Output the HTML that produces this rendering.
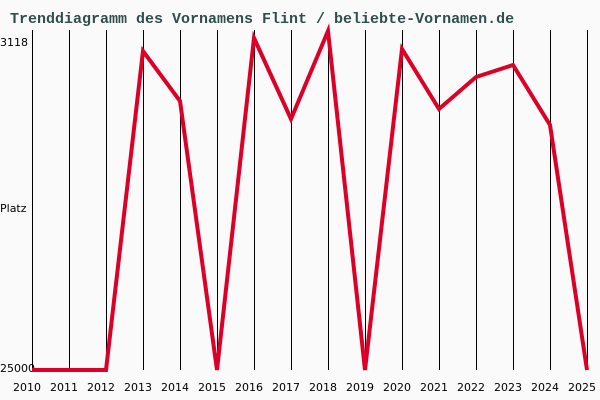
<!DOCTYPE html>
<html><head><style>body{margin:0;background:#fafafa}svg{display:block}</style></head>
<body>
<svg width="600" height="400" xmlns="http://www.w3.org/2000/svg" font-family="Liberation Mono, DejaVu Sans Mono, monospace">
<rect width="600" height="400" fill="#fafafa"/>
<text x="10" y="23" font-size="15" fill="#2f4f4f" font-weight="bold">Trenddiagramm des Vornamens Flint / beliebte-Vornamen.de</text>
<g stroke="#000" stroke-width="1">
<line x1="32.5" y1="30" x2="32.5" y2="370"/><line x1="69.5" y1="30" x2="69.5" y2="370"/><line x1="106.5" y1="30" x2="106.5" y2="370"/><line x1="143.5" y1="30" x2="143.5" y2="370"/><line x1="180.5" y1="30" x2="180.5" y2="370"/><line x1="217.5" y1="30" x2="217.5" y2="370"/><line x1="254.5" y1="30" x2="254.5" y2="370"/><line x1="291.5" y1="30" x2="291.5" y2="370"/><line x1="328.5" y1="30" x2="328.5" y2="370"/><line x1="365.5" y1="30" x2="365.5" y2="370"/><line x1="402.5" y1="30" x2="402.5" y2="370"/><line x1="439.5" y1="30" x2="439.5" y2="370"/><line x1="476.5" y1="30" x2="476.5" y2="370"/><line x1="513.5" y1="30" x2="513.5" y2="370"/><line x1="550.5" y1="30" x2="550.5" y2="370"/><line x1="587.5" y1="30" x2="587.5" y2="370"/>
</g>
<g font-size="11" fill="#000" font-family="DejaVu Sans, Liberation Sans, sans-serif">
<text x="0" y="46">3118</text>
<text x="0" y="212">Platz</text>
<text x="0" y="372">25000</text>
<g text-anchor="middle">
<text x="27" y="391">2010</text><text x="64" y="391">2011</text><text x="101" y="391">2012</text><text x="138" y="391">2013</text><text x="175" y="391">2014</text><text x="212" y="391">2015</text><text x="249" y="391">2016</text><text x="286" y="391">2017</text><text x="323" y="391">2018</text><text x="360" y="391">2019</text><text x="397" y="391">2020</text><text x="434" y="391">2021</text><text x="471" y="391">2022</text><text x="508" y="391">2023</text><text x="545" y="391">2024</text><text x="582" y="391">2025</text>
</g></g>
<polyline fill="none" stroke="#dc0028" stroke-width="4" stroke-linejoin="miter" points="32,370 69,370 106,370 143,51 180,101 217,370 254,38 291,119 328,31 365,370 402,49 439,109 476,77 513,65 550,125 587,370"/>
</svg>
</body></html>
